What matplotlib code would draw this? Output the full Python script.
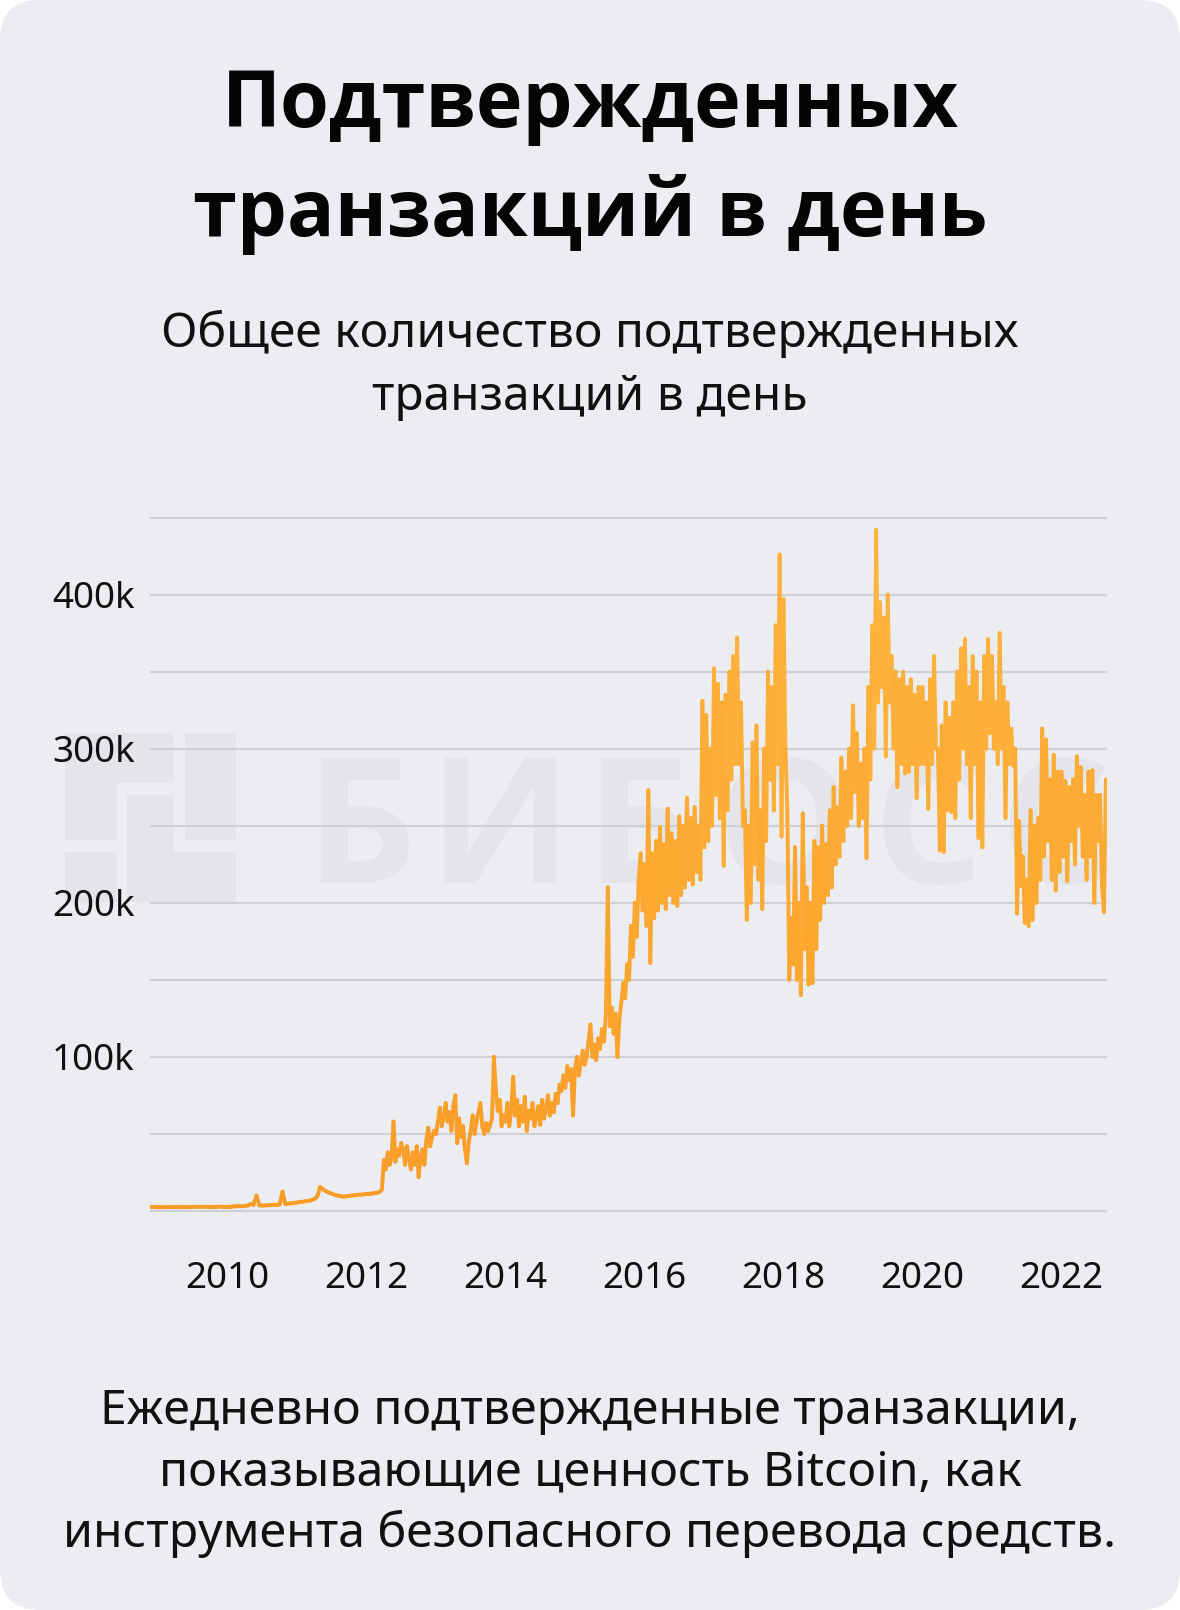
import numpy as np
import matplotlib.pyplot as plt
from matplotlib.collections import LineCollection
from matplotlib.colors import LinearSegmentedColormap
from matplotlib.patches import FancyBboxPatch, Rectangle
from matplotlib.ticker import FixedLocator, FuncFormatter

plt.rcParams['font.family'] = ['Noto Sans', 'DejaVu Sans']
BOLD_FAMILY = ['Open Sans', 'DejaVu Sans']

W, H = 1180, 1610

TITLE = ['Подтвержденных', 'транзакций в день']
SUBTITLE = ['Общее количество подтвержденных', 'транзакций в день']
FOOTER = ['Ежедневно подтвержденные транзакции,',
          'показывающие ценность Bitcoin, как',
          'инструмента безопасного перевода средств.']
WATERMARK = 'БИБОСС'

X_TICKS = [2010, 2012, 2014, 2016, 2018, 2020, 2022]
Y_GRID = [0, 50, 100, 150, 200, 250, 300, 350, 400, 450]
Y_LABELS = {100: '100k', 200: '200k', 300: '300k', 400: '400k'}

# confirmed transactions per day, thousands
first_x, first_v = 2008.9, 2.4
tx_2009 = [2.4, 2.5, 2.5, 2.6, 2.5, 2.6, 2.6, 2.7, 2.6, 2.7, 2.7, 2.8]
tx_2010 = [2.8, 2.8, 2.9, 3.0, 3.0, 3.1, 3.3, 3.5, 4.5, 4.0, 10.0, 3.6,
           3.5, 3.6, 3.7, 3.8, 3.9, 4.0, 4.1, 12.5, 4.5, 4.8, 5.0, 5.2]
tx_2011 = [5.5, 5.8, 6.0, 6.3, 6.5, 7.0, 7.8, 9.5, 15.5, 14.0, 12.8, 12.0,
           11.2, 10.5, 10.0, 9.6, 9.3, 9.5, 9.8, 10.0, 10.3, 10.5, 10.6, 10.8]
tx_2012 = [11, 11.2, 11, 11.4, 11.5, 11.8, 12, 12.5, 14, 33, 27, 38,
           30, 35, 58, 32, 40, 36, 44, 40, 30, 42, 34, 27,
           38, 30, 42, 22, 35, 40, 30, 46, 54, 42, 48, 52]
tx_2013 = [50, 58, 67, 55, 61, 70, 58, 64, 52, 68, 75, 44,
           60, 48, 55, 40, 31, 45, 52, 62, 50, 58, 64, 70,
           55, 50, 57, 52, 56, 60, 100, 78, 65, 72, 55, 62]
tx_2014 = [58, 70, 55, 66, 87, 62, 72, 55, 68, 58, 74, 52,
           65, 60, 70, 55, 62, 68, 56, 72, 60, 66, 75, 62,
           70, 64, 76, 70, 82, 78, 88, 80, 94, 85, 92, 62]
tx_2015 = [92, 100, 88, 96, 104, 95, 100, 110, 121, 100, 108, 98,
           112, 105, 118, 110, 128, 210, 120, 132, 115, 128, 100, 125,
           135, 148, 138, 160, 150, 185, 165, 200, 178, 215, 232, 195]
tx_2016 = [225, 185, 273, 161, 232, 190, 240, 195, 249, 200, 238, 196,
           261, 205, 245, 200, 240, 198, 256, 205, 250, 210, 268, 215,
           255, 212, 262, 220, 250, 215, 331, 236, 322, 240, 300, 250]
tx_2017 = [352, 270, 342, 255, 330, 224, 335, 260, 350, 280, 360, 290,
           372, 290, 330, 250, 260, 189, 250, 200, 304, 225, 315, 215,
           260, 196, 300, 240, 350, 280, 340, 260, 380, 290, 426, 243]
tx_2018 = [397, 300, 260, 150, 190, 160, 236, 150, 200, 140, 258, 170,
           210, 147, 200, 148, 240, 170, 236, 189, 250, 200, 238, 205,
           260, 210, 275, 225, 262, 230, 294, 240, 285, 250, 300, 255]
tx_2019 = [328, 272, 310, 250, 290, 255, 300, 229, 340, 280, 380, 300,
           442, 330, 395, 340, 385, 295, 400, 330, 360, 300, 350, 275,
           345, 290, 350, 284, 340, 285, 345, 290, 335, 268, 340, 290]
tx_2020 = [340, 290, 330, 261, 345, 290, 360, 300, 300, 234, 315, 233,
           330, 260, 320, 259, 330, 255, 350, 280, 365, 300, 371, 290,
           340, 255, 360, 290, 350, 242, 330, 236, 360, 300, 371, 310]
tx_2021 = [360, 300, 330, 290, 375, 300, 340, 255, 330, 290, 313, 289,
           300, 193, 253, 211, 230, 187, 215, 185, 260, 189, 250, 200,
           255, 215, 313, 230, 306, 240, 280, 215, 296, 208, 285, 220]
tx_2022 = [285, 230, 279, 214, 275, 240, 280, 225, 295, 250, 288, 230,
           270, 215, 285, 230, 286, 200, 270, 240, 270, 211, 194, 280]

SERIES = [(2009, 12, tx_2009), (2010, 24, tx_2010), (2011, 24, tx_2011),
          (2012, 36, tx_2012), (2013, 36, tx_2013), (2014, 36, tx_2014),
          (2015, 36, tx_2015), (2016, 36, tx_2016), (2017, 36, tx_2017),
          (2018, 36, tx_2018), (2019, 36, tx_2019), (2020, 36, tx_2020),
          (2021, 36, tx_2021), (2022, 36, tx_2022)]

xs, ys = [first_x], [first_v]
for year, per_year, vals in SERIES:
    for i, v in enumerate(vals):
        xs.append(year + i / per_year)
        ys.append(v)
xs = np.array(xs)
ys = np.array(ys, dtype=float)

fig = plt.figure(figsize=(W / 100, H / 100), dpi=100)
fig.patch.set_facecolor('white')

# background card in pixel coordinates
bg = fig.add_axes([0, 0, 1, 1], zorder=0)
bg.set_xlim(0, W)
bg.set_ylim(H, 0)
bg.axis('off')
bg.add_patch(FancyBboxPatch((0, 0), W, H, boxstyle='round,pad=0,rounding_size=40',
                            fc='#ECEDF1', ec='none'))

# faint watermark logo + text
wm = '#E4E5EA'
for x0, y0, x1, y1 in [(65, 733, 174, 783), (65, 733, 117, 840), (185, 733, 236, 840),
                       (127, 795, 174, 902), (127, 852, 236, 902), (65, 852, 117, 902)]:
    bg.add_patch(Rectangle((x0, y0), x1 - x0, y1 - y0, fc=wm, ec='none'))
for ch, cx in zip(WATERMARK, [361, 500, 641, 785, 928, 1055]):
    bg.text(cx, 883, ch, color=wm, fontsize=125, fontweight='bold', family=BOLD_FAMILY,
            ha='center', va='baseline')

# titles
for line, y in zip(TITLE, [127, 236]):
    bg.text(590, y, line, fontsize=57, fontweight='bold', family=BOLD_FAMILY,
            color='#050505', ha='center', va='baseline')
for line, y in zip(SUBTITLE, [346.7, 410]):
    bg.text(590, y, line, fontsize=34.5, color='#111111', ha='center', va='baseline')
for line, y in zip(FOOTER, [1423.5, 1485, 1546.7]):
    bg.text(590, y, line, fontsize=34.7, color='#111111', ha='center', va='baseline')

# chart
ax_bottom = 1215.6
ax_top = 512.9
ax = fig.add_axes([150 / W, (H - ax_bottom) / H, 957 / W, (ax_bottom - ax_top) / H], zorder=1)
ax.set_facecolor('none')
ax.set_xlim(2008.885, 2022.655)
ax.set_ylim(-3, 453)

ax.yaxis.set_major_locator(FixedLocator(Y_GRID))
ax.yaxis.set_major_formatter(FuncFormatter(lambda v, p: Y_LABELS.get(int(round(v)), '')))
ax.set_xticks(X_TICKS)
ax.set_xticklabels([str(t) for t in X_TICKS])
ax.grid(axis='y', color='#CFD0D4', linewidth=1.5)
ax.set_axisbelow(True)
for s in ax.spines.values():
    s.set_visible(False)
ax.tick_params(axis='y', length=0, pad=11, labelsize=26.5, labelcolor='#111111')
ax.tick_params(axis='x', length=0, pad=33, labelsize=26.5, labelcolor='#111111')

pts = np.column_stack([xs, ys]).reshape(-1, 1, 2)
segs = np.concatenate([pts[:-1], pts[1:]], axis=1)
cmap = LinearSegmentedColormap.from_list('btc', ['#F89C26', '#FCA932', '#FFBA44'])
lc = LineCollection(segs, cmap=cmap, linewidths=2.8, capstyle='round', joinstyle='round')
lc.set_array((ys[:-1] + ys[1:]) / 2)
lc.set_clim(0, 450)
ax.add_collection(lc)

fig.savefig('out.png', dpi=100, facecolor='white')
